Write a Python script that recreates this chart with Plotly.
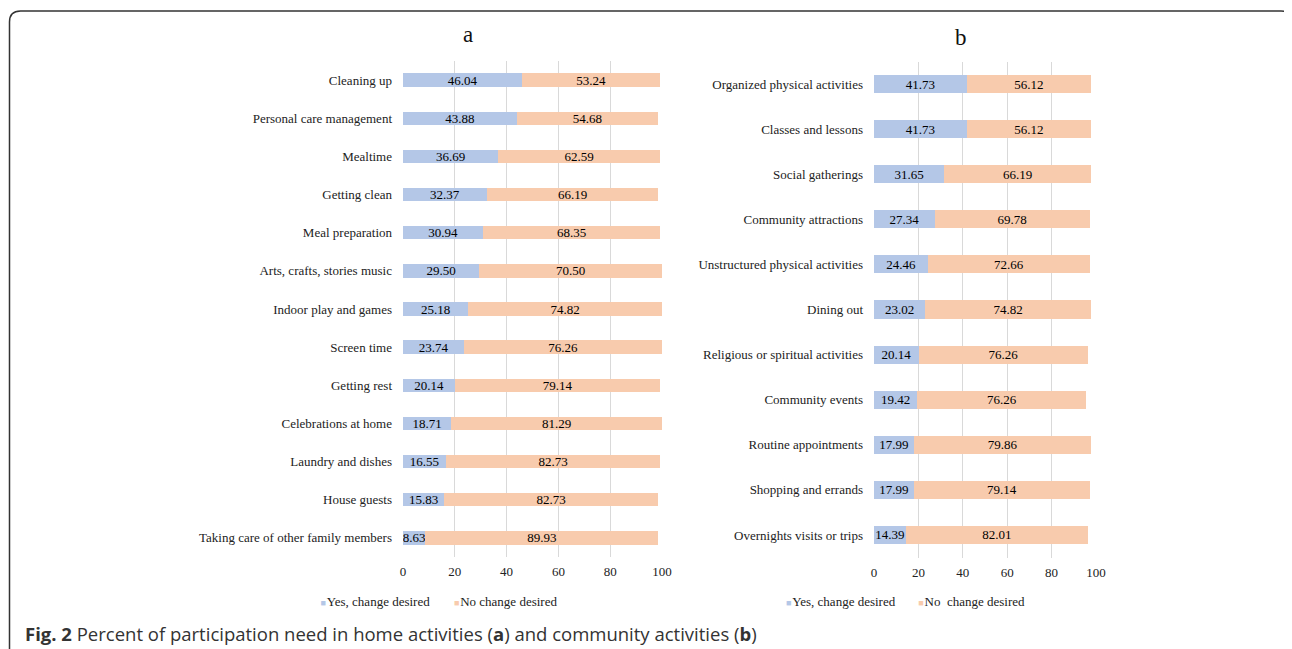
import plotly.graph_objects as go

# page body has an 8px margin; the figure is placed at (8, 8) in the window
OFF = 8
W, H = 1292 - OFF, 649 - OFF

# ---- data ----
home_categories = ["Cleaning up", "Personal care management", "Mealtime", "Getting clean",
                   "Meal preparation", "Arts, crafts, stories music", "Indoor play and games",
                   "Screen time", "Getting rest", "Celebrations at home", "Laundry and dishes",
                   "House guests", "Taking care of other family members"]
home_yes = [46.04, 43.88, 36.69, 32.37, 30.94, 29.50, 25.18, 23.74, 20.14, 18.71, 16.55, 15.83, 8.63]
home_no = [53.24, 54.68, 62.59, 66.19, 68.35, 70.50, 74.82, 76.26, 79.14, 81.29, 82.73, 82.73, 89.93]

comm_categories = ["Organized physical activities", "Classes and lessons", "Social gatherings",
                   "Community attractions", "Unstructured physical activities", "Dining out",
                   "Religious or spiritual activities", "Community events", "Routine appointments",
                   "Shopping and errands", "Overnights visits or trips"]
comm_yes = [41.73, 41.73, 31.65, 27.34, 24.46, 23.02, 20.14, 19.42, 17.99, 17.99, 14.39]
comm_no = [56.12, 56.12, 66.19, 69.78, 72.66, 74.82, 76.26, 76.26, 79.86, 79.14, 82.01]

x_ticks = [0, 20, 40, 60, 80, 100]

BLUE = "#b4c7e7"
ORANGE = "#f8cbad"
SERIF = "Liberation Serif"
TXT = "#222222"


def px(x):
    return (x - OFF) / W


def py(y):
    return 1 - (y - OFF) / H


fig = go.Figure()


def add_bars(cats, yes, no, xa, ya, width):
    for vals, col in ((yes, BLUE), (no, ORANGE)):
        fig.add_trace(go.Bar(
            y=cats, x=vals, orientation="h", marker=dict(color=col, line=dict(width=0)),
            width=width, xaxis=xa, yaxis=ya, showlegend=False,
            texttemplate="%{x:.2f}", textposition="inside", insidetextanchor="middle",
            textangle=0, textfont=dict(family=SERIF, size=13, color="#000000"),
            hoverinfo="skip"))


add_bars(home_categories, home_yes, home_no, "x", "y", 0.35)
add_bars(comm_categories, comm_yes, comm_no, "x2", "y2", 0.4)


def swatch(color, label):
    return (f"<span style='font-size:9px;color:{color}'>■</span>"
            f"<span style='font-size:3px'> </span>{label}")


legend_items = [
    ("legend", swatch(BLUE, "Yes, change desired"), 320.5, "x", "y"),
    ("legend2", swatch(ORANGE, "No change desired"), 454, "x", "y"),
    ("legend3", swatch(BLUE, "Yes, change desired"), 786, "x2", "y2"),
    ("legend4", swatch(ORANGE, "No&nbsp; change desired"), 918.3, "x2", "y2"),
]

legend_layout = {}
for key, label, xpos, xa, ya in legend_items:
    fig.add_trace(go.Scatter(x=[None], y=[None], mode="markers", name=label,
                             marker=dict(symbol="square", size=1, color="rgba(0,0,0,0)",
                                         line=dict(width=0, color="rgba(0,0,0,0)")),
                             legend=key, xaxis=xa, yaxis=ya, hoverinfo="skip"))
    legend_layout[key] = dict(x=px(xpos - 40), y=py(601), xanchor="left", yanchor="middle",
                              orientation="h", bgcolor="rgba(0,0,0,0)", borderwidth=0,
                              font=dict(family=SERIF, size=13, color=TXT))

xaxis_common = dict(range=[0, 100], tickvals=x_ticks, showgrid=True, gridcolor="#d9d9d9",
                    gridwidth=1.3, zeroline=False, showline=False, ticks="",
                    ticklabelstandoff=5,
                    tickfont=dict(family=SERIF, size=13, color=TXT), automargin=False,
                    fixedrange=True)
yaxis_common = dict(autorange="reversed", showgrid=False, zeroline=False, showline=False,
                    ticks="", tickfont=dict(family=SERIF, size=13, color=TXT),
                    automargin=False, ticklabelstandoff=10, fixedrange=True)

fig.update_layout(
    width=W, height=H,
    margin=dict(l=0, r=0, t=0, b=0),
    paper_bgcolor="white", plot_bgcolor="white",
    barmode="stack",
    uniformtext=dict(minsize=13, mode="show"),
    xaxis=dict(domain=[px(403), px(662)], anchor="y", **xaxis_common),
    yaxis=dict(domain=[py(557), py(61)], anchor="x", **yaxis_common),
    xaxis2=dict(domain=[px(874), px(1096)], anchor="y2", **xaxis_common),
    yaxis2=dict(domain=[py(557.5), py(61.5)], anchor="x2", **yaxis_common),
    annotations=[
        dict(text="a", x=px(468), y=py(35), xref="paper", yref="paper", showarrow=False,
             xanchor="center", yanchor="middle",
             font=dict(family=SERIF, size=23, color="#111111")),
        dict(text="b", x=px(961), y=py(38), xref="paper", yref="paper", showarrow=False,
             xanchor="center", yanchor="middle",
             font=dict(family=SERIF, size=23, color="#111111")),
        dict(text="<b>Fig. 2</b> Percent of participation need in home activities (<b>a</b>) and community activities (<b>b</b>)",
             x=px(23), y=py(633), xref="paper", yref="paper", xanchor="left", yanchor="middle",
             showarrow=False, font=dict(family="Open Sans", size=18.5, color="#333333")),
    ],
    shapes=[
        dict(type="path", xref="paper", yref="paper",
             path=(f"M {px(9.5)},{py(670)} L {px(9.5)},{py(22)} "
                   f"Q {px(9.5)},{py(11)} {px(20.5)},{py(11)} "
                   f"L {px(1281)},{py(11)} Q {px(1292)},{py(11)} {px(1292)},{py(22)} "
                   f"L {px(1292)},{py(670)}"),
             line=dict(color="#333333", width=1.5)),
    ],
    **legend_layout,
)

fig.write_html("out.html")
